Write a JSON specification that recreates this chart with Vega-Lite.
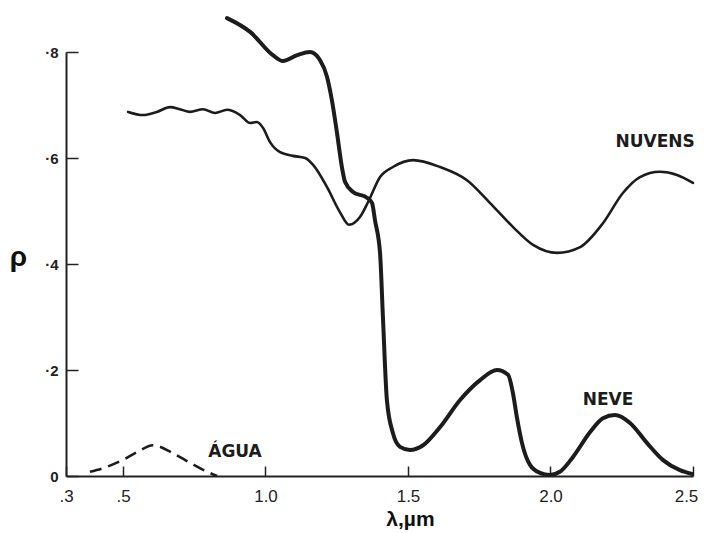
{
  "$schema": "https://vega.github.io/schema/vega-lite/v6.json",
  "autosize": {"type": "none"},
  "width": 627,
  "height": 424,
  "padding": {"left": 66, "top": 52, "right": 11, "bottom": 57},
  "background": "white",
  "config": {"view": {"stroke": null}, "font": "Liberation Sans"},
  "datasets": {
    "curves": [
      {"series": "neve", "x": 0.865, "y": 0.864},
      {"series": "neve", "x": 0.946, "y": 0.838},
      {"series": "neve", "x": 1.026, "y": 0.794},
      {"series": "neve", "x": 1.061, "y": 0.783},
      {"series": "neve", "x": 1.111, "y": 0.794},
      {"series": "neve", "x": 1.156, "y": 0.800},
      {"series": "neve", "x": 1.191, "y": 0.785},
      {"series": "neve", "x": 1.216, "y": 0.753},
      {"series": "neve", "x": 1.233, "y": 0.709},
      {"series": "neve", "x": 1.251, "y": 0.647},
      {"series": "neve", "x": 1.268, "y": 0.583},
      {"series": "neve", "x": 1.279, "y": 0.555},
      {"series": "neve", "x": 1.307, "y": 0.536},
      {"series": "neve", "x": 1.356, "y": 0.525},
      {"series": "neve", "x": 1.374, "y": 0.515},
      {"series": "neve", "x": 1.384, "y": 0.483},
      {"series": "neve", "x": 1.402, "y": 0.420},
      {"series": "neve", "x": 1.412, "y": 0.300},
      {"series": "neve", "x": 1.426, "y": 0.143},
      {"series": "neve", "x": 1.447, "y": 0.081},
      {"series": "neve", "x": 1.472, "y": 0.055},
      {"series": "neve", "x": 1.507, "y": 0.049},
      {"series": "neve", "x": 1.553, "y": 0.058},
      {"series": "neve", "x": 1.612, "y": 0.092},
      {"series": "neve", "x": 1.682, "y": 0.143},
      {"series": "neve", "x": 1.753, "y": 0.181},
      {"series": "neve", "x": 1.812, "y": 0.200},
      {"series": "neve", "x": 1.851, "y": 0.191},
      {"series": "neve", "x": 1.868, "y": 0.157},
      {"series": "neve", "x": 1.882, "y": 0.111},
      {"series": "neve", "x": 1.900, "y": 0.062},
      {"series": "neve", "x": 1.928, "y": 0.021},
      {"series": "neve", "x": 1.963, "y": 0.006},
      {"series": "neve", "x": 1.998, "y": 0.002},
      {"series": "neve", "x": 2.033, "y": 0.008},
      {"series": "neve", "x": 2.079, "y": 0.036},
      {"series": "neve", "x": 2.139, "y": 0.083},
      {"series": "neve", "x": 2.184, "y": 0.109},
      {"series": "neve", "x": 2.226, "y": 0.115},
      {"series": "neve", "x": 2.279, "y": 0.100},
      {"series": "neve", "x": 2.339, "y": 0.062},
      {"series": "neve", "x": 2.395, "y": 0.030},
      {"series": "neve", "x": 2.454, "y": 0.011},
      {"series": "neve", "x": 2.496, "y": 0.004},
      {"series": "nuvens", "x": 0.518, "y": 0.687},
      {"series": "nuvens", "x": 0.570, "y": 0.681},
      {"series": "nuvens", "x": 0.619, "y": 0.687},
      {"series": "nuvens", "x": 0.665, "y": 0.696},
      {"series": "nuvens", "x": 0.700, "y": 0.692},
      {"series": "nuvens", "x": 0.735, "y": 0.687},
      {"series": "nuvens", "x": 0.781, "y": 0.692},
      {"series": "nuvens", "x": 0.823, "y": 0.685},
      {"series": "nuvens", "x": 0.865, "y": 0.691},
      {"series": "nuvens", "x": 0.911, "y": 0.681},
      {"series": "nuvens", "x": 0.946, "y": 0.666},
      {"series": "nuvens", "x": 0.970, "y": 0.668},
      {"series": "nuvens", "x": 0.991, "y": 0.657},
      {"series": "nuvens", "x": 1.016, "y": 0.630},
      {"series": "nuvens", "x": 1.051, "y": 0.611},
      {"series": "nuvens", "x": 1.096, "y": 0.604},
      {"series": "nuvens", "x": 1.139, "y": 0.600},
      {"series": "nuvens", "x": 1.167, "y": 0.587},
      {"series": "nuvens", "x": 1.216, "y": 0.545},
      {"series": "nuvens", "x": 1.261, "y": 0.498},
      {"series": "nuvens", "x": 1.293, "y": 0.474},
      {"series": "nuvens", "x": 1.332, "y": 0.489},
      {"series": "nuvens", "x": 1.360, "y": 0.517},
      {"series": "nuvens", "x": 1.402, "y": 0.564},
      {"series": "nuvens", "x": 1.447, "y": 0.583},
      {"series": "nuvens", "x": 1.518, "y": 0.596},
      {"series": "nuvens", "x": 1.612, "y": 0.583},
      {"series": "nuvens", "x": 1.707, "y": 0.558},
      {"series": "nuvens", "x": 1.788, "y": 0.515},
      {"series": "nuvens", "x": 1.868, "y": 0.470},
      {"series": "nuvens", "x": 1.939, "y": 0.436},
      {"series": "nuvens", "x": 2.023, "y": 0.421},
      {"series": "nuvens", "x": 2.104, "y": 0.432},
      {"series": "nuvens", "x": 2.184, "y": 0.477},
      {"series": "nuvens", "x": 2.254, "y": 0.534},
      {"series": "nuvens", "x": 2.314, "y": 0.564},
      {"series": "nuvens", "x": 2.384, "y": 0.574},
      {"series": "nuvens", "x": 2.444, "y": 0.568},
      {"series": "nuvens", "x": 2.500, "y": 0.553},
      {"series": "agua", "x": 0.384, "y": 0.008},
      {"series": "agua", "x": 0.442, "y": 0.017},
      {"series": "agua", "x": 0.498, "y": 0.030},
      {"series": "agua", "x": 0.549, "y": 0.045},
      {"series": "agua", "x": 0.605, "y": 0.058},
      {"series": "agua", "x": 0.675, "y": 0.043},
      {"series": "agua", "x": 0.735, "y": 0.025},
      {"series": "agua", "x": 0.795, "y": 0.008},
      {"series": "agua", "x": 0.830, "y": 0.000}
    ],
    "labels": [
      {"label": "NUVENS", "x": 2.367, "y": 0.621},
      {"label": "NEVE", "x": 2.202, "y": 0.134},
      {"label": "ÁGUA", "x": 0.893, "y": 0.036}
    ]
  },
  "layer": [
    {
      "data": {"name": "curves"},
      "transform": [{"filter": "datum.series == 'neve'"}],
      "mark": {"type": "line", "color": "#1c1c1c", "strokeWidth": 4, "interpolate": "monotone", "strokeCap": "round", "strokeJoin": "round"},
      "encoding": {
        "x": {
          "field": "x", "type": "quantitative",
          "scale": {"domain": [0.3, 2.5], "nice": false, "zero": false},
          "axis": {
            "values": [0.3, 0.5, 1.0, 1.5, 2.0, 2.5],
            "labelExpr": "datum.value < 0.9 ? replace(format(datum.value, '.1f'), '0.', '.') : format(datum.value, '.1f')",
            "grid": false,
            "domainColor": "#222", "domainWidth": 2,
            "tickColor": "#222", "tickWidth": 1.5, "tickSize": -10,
            "labelFontSize": 17, "labelColor": "#222", "labelPadding": 22,
            "labelOffset": {"condition": {"test": "datum.value > 2.4", "value": -7}, "value": 0},
            "labelFlush": false,
            "title": "λ,µm", "titleFontSize": 21, "titleFontWeight": "bold", "titleColor": "#111",
            "titleX": 344, "titleY": 49, "titleBaseline": "alphabetic", "titleAnchor": "middle"
          }
        },
        "y": {
          "field": "y", "type": "quantitative",
          "scale": {"domain": [0, 0.8], "nice": false},
          "axis": {
            "values": [0, 0.2, 0.4, 0.6, 0.8],
            "labelExpr": "datum.value == 0 ? '0' : '·' + format(datum.value * 10, 'd')",
            "grid": false,
            "domainColor": "#222", "domainWidth": 2,
            "tickColor": "#222", "tickWidth": 1.5, "tickSize": -12,
            "labelFontSize": 15, "labelFontWeight": "bold", "labelColor": "#222", "labelPadding": 20,
            "labelFlush": false,
            "title": "ρ", "titleFontSize": 28, "titleFontWeight": "bold", "titleColor": "#111",
            "titleAngle": 0, "titleX": -48, "titleY": 213, "titleAlign": "center", "titleBaseline": "alphabetic"
          }
        }
      }
    },
    {
      "data": {"name": "curves"},
      "transform": [{"filter": "datum.series == 'nuvens'"}],
      "mark": {"type": "line", "color": "#1c1c1c", "strokeWidth": 2.6, "interpolate": "monotone", "strokeCap": "round", "strokeJoin": "round"},
      "encoding": {
        "x": {"field": "x", "type": "quantitative"},
        "y": {"field": "y", "type": "quantitative"}
      }
    },
    {
      "data": {"name": "curves"},
      "transform": [{"filter": "datum.series == 'agua'"}],
      "mark": {"type": "line", "color": "#1c1c1c", "strokeWidth": 2.6, "strokeDash": [12, 7], "interpolate": "monotone"},
      "encoding": {
        "x": {"field": "x", "type": "quantitative"},
        "y": {"field": "y", "type": "quantitative"}
      }
    },
    {
      "data": {"name": "labels"},
      "mark": {"type": "text", "font": "DejaVu Sans", "fontSize": 17, "fontWeight": "bold", "color": "#1c1c1c", "align": "center", "baseline": "alphabetic"},
      "encoding": {
        "x": {"field": "x", "type": "quantitative"},
        "y": {"field": "y", "type": "quantitative"},
        "text": {"field": "label"}
      }
    }
  ]
}
